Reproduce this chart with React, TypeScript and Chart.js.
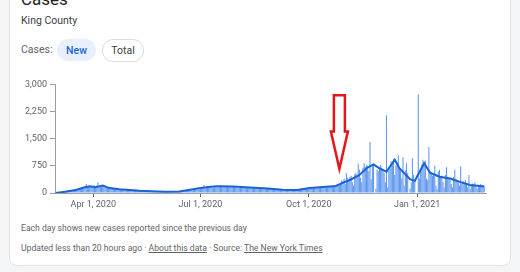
import React, { useEffect, useRef } from 'react';
import { Chart, registerables } from 'chart.js';

Chart.register(...registerables);

// Daily new cases, King County. First day: 2020-02-29.
const feb2020 = [3];
const mar2020 = [5, 6, 8, 10, 15, 20, 25, 30, 35, 40, 45, 55, 60, 70, 80, 90, 100, 110, 120, 130, 145, 150, 160, 170, 180, 250, 175, 190, 210, 180, 195];
const apr2020 = [200, 205, 190, 210, 290, 180, 220, 200, 230, 215, 190, 170, 150, 160, 140, 130, 125, 135, 120, 115, 110, 105, 120, 100, 95, 110, 90, 100, 95, 85];
const may2020 = [90, 85, 70, 80, 75, 60, 95, 85, 70, 65, 60, 75, 70, 55, 65, 60, 50, 55, 60, 45, 50, 55, 40, 45, 50, 35, 40, 45, 50, 35, 40];
const jun2020 = [35, 40, 45, 30, 40, 45, 50, 40, 35, 45, 50, 40, 45, 55, 60, 70, 65, 80, 85, 90, 100, 95, 110, 105, 120, 130, 115, 140, 150, 135];
const jul2020 = [150, 170, 160, 220, 130, 140, 180, 175, 190, 200, 165, 150, 210, 195, 185, 200, 190, 215, 170, 160, 190, 180, 200, 175, 185, 170, 160, 190, 180, 175, 165];
const aug2020 = [160, 150, 140, 170, 155, 145, 160, 150, 140, 130, 150, 165, 140, 145, 155, 135, 130, 150, 145, 140, 125, 135, 140, 130, 120, 135, 125, 120, 115, 130, 110];
const sep2020 = [110, 100, 105, 95, 90, 85, 80, 100, 95, 85, 90, 80, 75, 85, 90, 95, 80, 85, 90, 100, 95, 90, 105, 110, 100, 115, 120, 110, 125, 130];
const oct2020 = [140, 150, 135, 145, 160, 150, 140, 155, 165, 150, 160, 170, 155, 165, 170, 180, 160, 175, 185, 190, 170, 200, 210, 190, 220, 230, 250, 260, 350, 310, 400];
const nov2020 = [250, 546, 420, 380, 450, 480, 300, 200, 520, 560, 480, 806, 650, 420, 300, 700, 824, 720, 780, 750, 600, 1407, 380, 800, 760, 0, 120, 650, 600, 720];
const dec2020 = [778, 700, 650, 560, 300, 2148, 150, 620, 700, 880, 800, 935, 500, 760, 850, 1046, 700, 650, 400, 990, 200, 620, 824, 550, 0, 120, 300, 963, 500, 350, 0];
const jan2021 = [0, 2722, 400, 650, 780, 917, 860, 900, 400, 350, 1270, 600, 550, 480, 520, 750, 200, 100, 600, 640, 450, 480, 300, 150, 500, 713, 450, 420, 380, 250, 150];
const feb2021 = [450, 640, 380, 350, 300, 200, 730, 260, 330, 280, 360, 250, 150, 500, 100, 200, 260, 240, 300, 180, 120, 230, 200, 250, 200, 220, 180];

// 7-day average line
const avgDates = ['2020-02-29', '2020-03-08', '2020-03-17', '2020-03-25', '2020-03-29', '2020-04-03', '2020-04-09', '2020-04-15', '2020-04-23', '2020-05-02', '2020-05-10', '2020-05-21', '2020-06-01', '2020-06-13', '2020-06-21', '2020-06-30', '2020-07-08', '2020-07-15', '2020-07-29', '2020-08-12', '2020-08-27', '2020-09-09', '2020-09-21', '2020-10-02', '2020-10-13', '2020-10-24', '2020-10-30', '2020-11-05', '2020-11-13', '2020-11-19', '2020-11-25', '2020-11-30', '2020-12-06', '2020-12-10', '2020-12-13', '2020-12-17', '2020-12-21', '2020-12-26', '2020-12-30', '2021-01-02', '2021-01-07', '2021-01-12', '2021-01-20', '2021-01-29', '2021-02-07', '2021-02-15', '2021-02-27'];
const avgValues = [0, 37, 83, 157, 185, 160, 205, 135, 105, 85, 65, 48, 38, 40, 85, 135, 165, 190, 180, 150, 122, 88, 85, 140, 165, 195, 285, 360, 500, 685, 790, 680, 590, 780, 920, 685, 550, 380, 330, 520, 820, 560, 450, 400, 300, 220, 180];

const tickDates = ['2020-04-01', '2020-07-01', '2020-10-01', '2021-01-01'];
const tickLabels = ['Apr 1, 2020', 'Jul 1, 2020', 'Oct 1, 2020', 'Jan 1, 2021'];
const yTickValues = [0, 750, 1500, 2250, 3000];

const firstDay = [2020, 1, 29];
const dayCount = 366; // through 2021-02-28

// Annotation arrow (hand-drawn red arrow on the reference)
const arrowDate = '2020-10-27';
const arrowTopValue = 2700;
const arrowHeadValue = 1700;
const arrowTipValue = 670;

const dailyValues = [...feb2020, ...mar2020, ...apr2020, ...may2020, ...jun2020, ...jul2020, ...aug2020, ...sep2020, ...oct2020, ...nov2020, ...dec2020, ...jan2021, ...feb2021];

const labels: string[] = [];
for (let i = 0; i < dayCount; i++) {
  labels.push(new Date(Date.UTC(firstDay[0], firstDay[1], firstDay[2] + i)).toISOString().slice(0, 10));
}

const FONT = 'Roboto, Arial, sans-serif';

const arrowPlugin = {
  id: 'redArrow',
  afterDatasetsDraw(chart: any) {
    const xs = chart.scales.x;
    const ys = chart.scales.y;
    const cx = xs.getPixelForValue(labels.indexOf(arrowDate));
    const top = ys.getPixelForValue(arrowTopValue);
    const head = ys.getPixelForValue(arrowHeadValue);
    const tip = ys.getPixelForValue(arrowTipValue);
    const sw = 5.5;
    const hw = 8.5;
    const ctx = chart.ctx;
    ctx.save();
    ctx.beginPath();
    ctx.moveTo(cx - sw, top);
    ctx.lineTo(cx + sw, top);
    ctx.lineTo(cx + sw, head);
    ctx.lineTo(cx + hw, head);
    ctx.lineTo(cx, tip);
    ctx.lineTo(cx - hw, head);
    ctx.lineTo(cx - sw, head);
    ctx.closePath();
    ctx.lineWidth = 2.5;
    ctx.lineJoin = 'miter';
    ctx.strokeStyle = '#e3161b';
    ctx.stroke();
    ctx.restore();
  },
};

function CasesChart() {
  const ref = useRef<HTMLCanvasElement | null>(null);
  useEffect(() => {
    if (!ref.current) return;
    const tickIdx = tickDates.map((d) => labels.indexOf(d));
    const chart = new Chart(ref.current, {
      type: 'bar',
      data: {
        labels,
        datasets: [
          {
            type: 'line',
            data: avgDates.map((d, i) => ({ x: d, y: avgValues[i] })) as any,
            borderColor: '#1a62d6',
            borderWidth: 2,
            pointRadius: 0,
            tension: 0,
            order: 0,
          } as any,
          {
            type: 'bar',
            data: dailyValues,
            backgroundColor: '#5f97ef',
            barPercentage: 0.9,
            categoryPercentage: 1,
            order: 1,
          } as any,
        ],
      },
      options: {
        animation: false,
        responsive: true,
        maintainAspectRatio: false,
        layout: { padding: { top: 8.5, right: 14, left: 0, bottom: 0 } },
        plugins: { legend: { display: false }, tooltip: { enabled: false } },
        scales: {
          x: {
            offset: true,
            grid: { display: true, drawOnChartArea: false, drawTicks: true, tickLength: 4, offset: false, color: '#5f6368' },
            border: { display: true, color: '#9aa0a6' },
            ticks: {
              autoSkip: false,
              maxRotation: 0,
              padding: 2,
              color: '#5f6368',
              font: { family: FONT, size: 9 },
              callback: (v: any) => {
                const k = tickIdx.indexOf(v);
                return k >= 0 ? tickLabels[k] : '';
              },
            },
            afterBuildTicks: (s: any) => {
              s.ticks = s.ticks.filter((t: any) => tickIdx.includes(t.value));
            },
            afterFit: (s: any) => {
              s.height = 20;
            },
          },
          y: {
            min: 0,
            max: 3000,
            grid: { display: true, drawOnChartArea: false, drawTicks: true, tickLength: 5, color: '#9aa0a6' },
            border: { display: true, color: '#9aa0a6' },
            ticks: { padding: 3, color: '#5f6368', font: { family: FONT, size: 9 } },
            afterBuildTicks: (s: any) => {
              s.ticks = yTickValues.map((v) => ({ value: v }));
            },
            afterFit: (s: any) => {
              s.width = 55;
            },
          },
        },
      } as any,
      plugins: [arrowPlugin],
    });
    return () => chart.destroy();
  }, []);
  return (
    <div style={{ position: 'absolute', left: 0, top: 76, width: 500, height: 137 }}>
      <canvas ref={ref} />
    </div>
  );
}

export default function App() {
  const txt = (extra: React.CSSProperties): React.CSSProperties => ({
    position: 'absolute',
    fontFamily: FONT,
    whiteSpace: 'nowrap',
    ...extra,
  });
  return (
    <div style={{ position: 'fixed', left: 0, top: 0, width: 520, height: 272, background: '#f4f5f6', overflow: 'hidden' }}>
      <div
        style={{
          position: 'absolute',
          left: 9,
          top: -30,
          width: 500,
          height: 294,
          background: '#fff',
          border: '1px solid #e2e3e5',
          borderRadius: 8,
        }}
      />
      <div style={txt({ left: 21, top: -9, fontSize: 17, lineHeight: '17px', color: '#202124' })}>Cases</div>
      <div style={txt({ left: 21, top: 15, fontSize: 10.5, lineHeight: '12px', color: '#3c4043' })}>King County</div>
      <div style={txt({ left: 21, top: 44, fontSize: 10.5, lineHeight: '12px', color: '#5f6368' })}>Cases:</div>
      <div
        style={txt({
          left: 57,
          top: 39,
          width: 39,
          height: 22,
          borderRadius: 11,
          background: '#e8f0fe',
          color: '#1967d2',
          fontSize: 10.5,
          fontWeight: 500,
          display: 'flex',
          alignItems: 'center',
          justifyContent: 'center',
        })}
      >
        New
      </div>
      <div
        style={txt({
          left: 102,
          top: 39,
          width: 40,
          height: 21,
          borderRadius: 11,
          border: '1px solid #dadce0',
          color: '#3c4043',
          fontSize: 10.5,
          display: 'flex',
          alignItems: 'center',
          justifyContent: 'center',
        })}
      >
        Total
      </div>
      <CasesChart />
      <div style={txt({ left: 21, top: 222, fontSize: 8.6, lineHeight: '12px', color: '#5f6368' })}>
        Each day shows new cases reported since the previous day
      </div>
      <div style={txt({ left: 21, top: 242, fontSize: 8.6, lineHeight: '12px', color: '#5f6368' })}>
        Updated less than 20 hours ago · <span style={{ textDecoration: 'underline' }}>About this data</span> · Source:{' '}
        <span style={{ textDecoration: 'underline' }}>The New York Times</span>
      </div>
    </div>
  );
}
